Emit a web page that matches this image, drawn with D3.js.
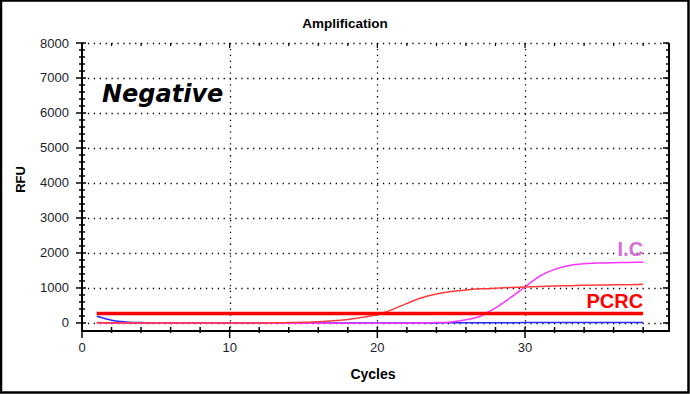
<!DOCTYPE html>
<html>
<head>
<meta charset="utf-8">
<script src="https://cdn.jsdelivr.net/npm/d3@7"></script>
<style>
  body { margin: 0; background: #fff; }
  svg text { font-family: Arial, "Liberation Sans", sans-serif; }
</style>
</head>
<body>
<div id="chart"></div>
<script>
// values, one per cycle (1..38)
let cycles = d3.range(1, 39);
let pcrc = [10, 5, 0, 0, 0, 0, 0, 0, 0, 0, 0, 0, 5, 10, 20, 35, 60, 100, 160, 240,
            380, 560, 720, 830, 900, 945, 975, 995, 1010, 1025, 1040, 1055, 1065, 1075, 1085, 1090, 1095, 1105];
let ic = [0, -5, -10, -10, -10, -10, -10, -10, -10, -10, -10, -10, -10, -10, -10, -10, -10, -10, -10, -10,
          -10, -5, 0, 10, 30, 90, 200, 430, 720, 1030, 1340, 1530, 1640, 1690, 1712, 1722, 1728, 1735];
let fam = [190, 80, 30, 10, 0, 0, 0, 0, 0, 0, 0, 0, 0, 0, 0, 0, 0, 0, 0, 0,
           0, 0, 0, 0, 5, 5, 5, 5, 5, 10, 10, 10, 10, 10, 15, 15, 10, 10];
let threshold = 270;

let yTicks = d3.range(0, 8001, 1000);
let yMinor = d3.range(0, 8001, 200);
let xTicks = [0, 10, 20, 30];
let xMinor = d3.range(0, 39, 2);

let width = 690, height = 394;
let svg = d3.select("#chart").append("svg")
    .attr("width", width)
    .attr("height", height);

let x = d3.scaleLinear().domain([0, 39.75]).range([82, 669]);
let y = d3.scaleLinear().domain([-230, 8000]).range([331, 43]);

// outer frame
svg.append("rect").attr("x", 1).attr("y", 0.5).attr("width", 687.5).attr("height", 392)
    .attr("fill", "none").attr("stroke", "#000").attr("stroke-width", 2.5);

// dotted grid
svg.append("g").selectAll("line").data(yTicks).join("line")
    .attr("x1", x(0)).attr("x2", x(39.75))
    .attr("y1", d => Math.round(y(d)) + 0.5).attr("y2", d => Math.round(y(d)) + 0.5)
    .attr("stroke", "#000").attr("stroke-width", 1.3).attr("stroke-dasharray", "1.3,4.6");
svg.append("g").selectAll("line").data(xTicks.slice(1)).join("line")
    .attr("x1", d => Math.round(x(d)) + 0.5).attr("x2", d => Math.round(x(d)) + 0.5)
    .attr("y1", y(8000)).attr("y2", y(-230))
    .attr("stroke", "#000").attr("stroke-width", 1.3).attr("stroke-dasharray", "1.3,4.6");

// axes: left, bottom, right, and ticks along the top
let axisG = svg.append("g").attr("stroke", "#000");
axisG.append("line").attr("x1", x(0)).attr("x2", x(0)).attr("y1", y(8000)).attr("y2", y(-230)).attr("stroke-width", 2);
axisG.append("line").attr("x1", x(0) - 1).attr("x2", x(39.75) + 1).attr("y1", y(-230)).attr("y2", y(-230)).attr("stroke-width", 2);
axisG.append("line").attr("x1", x(39.75)).attr("x2", x(39.75)).attr("y1", y(8000)).attr("y2", y(-230)).attr("stroke-width", 2);

axisG.selectAll(".ly").data(yMinor).join("line")
    .attr("x1", d => d % 1000 === 0 ? x(0) - 6 : x(0) - 3)
    .attr("x2", d => d % 1000 === 0 ? x(0) + 4 : x(0) + 3)
    .attr("y1", d => y(d)).attr("y2", d => y(d)).attr("stroke-width", 1.5);
axisG.selectAll(".ry").data(yMinor).join("line")
    .attr("x1", d => d % 1000 === 0 ? x(39.75) - 6 : x(39.75) - 3)
    .attr("x2", x(39.75))
    .attr("y1", d => y(d)).attr("y2", d => y(d)).attr("stroke-width", 1.5);
axisG.selectAll(".bx").data(xMinor).join("line")
    .attr("x1", d => x(d)).attr("x2", d => x(d))
    .attr("y1", y(-230) - 4)
    .attr("y2", d => d % 10 === 0 ? y(-230) + 7 : y(-230) + 2).attr("stroke-width", 1.5);
axisG.selectAll(".tx").data(xMinor).join("line")
    .attr("x1", d => x(d)).attr("x2", d => x(d))
    .attr("y1", y(8000)).attr("y2", d => d % 10 === 0 ? y(8000) + 5 : y(8000) + 3).attr("stroke-width", 1.2);

// tick labels
svg.append("g").selectAll("text").data(yTicks).join("text")
    .attr("x", x(0) - 13).attr("y", d => y(d) + 4.5)
    .attr("text-anchor", "end").attr("font-size", 13).attr("fill", "#1c1c2c")
    .text(d => d);
svg.append("g").selectAll("text").data(xTicks).join("text")
    .attr("x", d => x(d)).attr("y", y(-230) + 21)
    .attr("text-anchor", "middle").attr("font-size", 13).attr("fill", "#1c1c2c")
    .text(d => d);

// titles
svg.append("text").attr("x", 345).attr("y", 28).attr("text-anchor", "middle")
    .attr("font-size", 13.5).attr("font-weight", "bold").text("Amplification");
svg.append("text").attr("x", 373).attr("y", 379).attr("text-anchor", "middle")
    .attr("font-size", 14).attr("font-weight", "bold").text("Cycles");
svg.append("text").attr("transform", "translate(25," + y(4100) + ") rotate(-90)")
    .attr("text-anchor", "middle").attr("font-size", 13).attr("font-weight", "bold").text("RFU");

// curves
let line = d3.line().x((d, i) => x(cycles[i])).y(d => y(d)).curve(d3.curveMonotoneX);
svg.append("path").datum(fam).attr("d", line)
    .attr("fill", "none").attr("stroke", "#2a2aff").attr("stroke-width", 1.5);
svg.append("path").datum(ic).attr("d", line)
    .attr("fill", "none").attr("stroke", "#ff33ff").attr("stroke-width", 1.5);
svg.append("path").datum(pcrc).attr("d", line)
    .attr("fill", "none").attr("stroke", "#ff3a3a").attr("stroke-width", 1.5);
svg.append("line")
    .attr("x1", x(cycles[0])).attr("x2", x(cycles[cycles.length - 1]))
    .attr("y1", y(threshold)).attr("y2", y(threshold))
    .attr("stroke", "#ff0000").attr("stroke-width", 3.5);

// annotations
svg.append("text").attr("x", 102).attr("y", 102)
    .style("font-family", "'DejaVu Sans', Verdana, sans-serif")
    .attr("font-size", 24).attr("font-weight", "bold").attr("font-style", "italic")
    .text("Negative");
svg.append("text").attr("x", x(38)).attr("y", y(1900))
    .attr("text-anchor", "end").attr("font-size", 20).attr("font-weight", "bold")
    .attr("fill", "#d670d6").text("I.C");
svg.append("text").attr("x", x(38)).attr("y", y(440))
    .attr("text-anchor", "end").attr("font-size", 20).attr("font-weight", "bold")
    .attr("fill", "#ff0000").text("PCRC");
</script>
</body>
</html>
